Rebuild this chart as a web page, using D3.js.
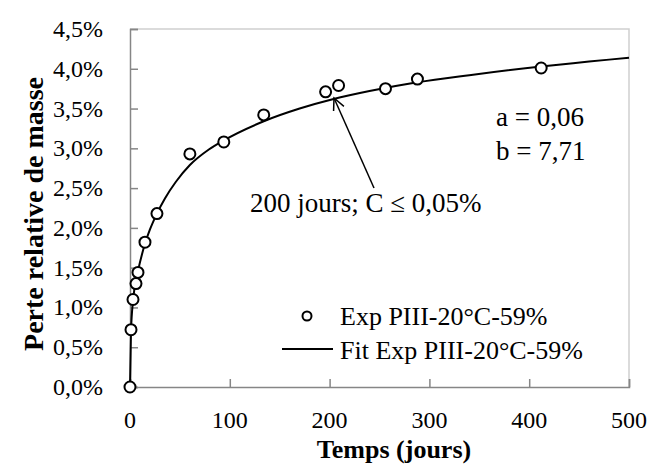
<!DOCTYPE html>
<html>
<head>
<meta charset="utf-8">
<script src="https://cdn.jsdelivr.net/npm/d3@7"></script>
<style>
  body { margin: 0; background: #fff; }
  text { font-family: "Liberation Serif", "Times New Roman", serif; fill: #000; }
</style>
</head>
<body>
<div id="chart"></div>
<script>
// Experimental points (days, % mass loss)
const expDays   = [0, 1, 3, 6, 8, 15, 27, 60, 94, 134, 196, 209, 256, 288, 412];
const expValues = [0, 0.72, 1.10, 1.30, 1.44, 1.82, 2.18, 2.93, 3.08, 3.42, 3.71, 3.79, 3.75, 3.87, 4.01];

// Fitted curve
const fitDays   = [0, 1, 3, 5, 8, 15, 20, 27, 35, 46, 60, 79, 94, 134, 170, 204, 240, 288, 340, 412, 460, 500];
const fitValues = [0, 0.70, 1.08, 1.28, 1.46, 1.80, 1.98, 2.18, 2.37, 2.58, 2.79, 2.985, 3.10, 3.34, 3.50, 3.62, 3.72, 3.83, 3.92, 4.03, 4.09, 4.14];

const xTicks = [0, 100, 200, 300, 400, 500];
const yTicks = [0, 0.5, 1, 1.5, 2, 2.5, 3, 3.5, 4, 4.5];

const seriesNames = ["Exp PIII-20°C-59%", "Fit Exp PIII-20°C-59%"];

const width = 651, height = 464;
const margin = { top: 29, right: 22, bottom: 77, left: 130 };
const w = width - margin.left - margin.right;
const h = height - margin.top - margin.bottom;

const svg = d3.select("#chart").append("svg")
  .attr("width", width).attr("height", height);

const g = svg.append("g").attr("transform", `translate(${margin.left},${margin.top})`);

const x = d3.scaleLinear().domain([0, 500]).range([0, w]);
const y = d3.scaleLinear().domain([0, 4.5]).range([h, 0]);

// plot area border (top / right)
g.append("path")
  .attr("d", `M0,0H${w}V${h}`)
  .attr("fill", "none").attr("stroke", "#d0d0d0").attr("stroke-width", 1.5);

// axes, ticks pointing inward
const xAxis = g.append("g").attr("transform", `translate(0,${h})`)
  .call(d3.axisTop(x).tickValues(xTicks).tickSize(8).tickFormat(""));
const yAxis = g.append("g")
  .call(d3.axisRight(y).tickValues(yTicks).tickSize(8).tickFormat(""));
[xAxis, yAxis].forEach(a => {
  a.selectAll("path, line").attr("stroke", "#868686").attr("stroke-width", 1.5);
});

// tick labels
g.selectAll(".xl").data(xTicks).enter().append("text")
  .attr("x", d => x(d)).attr("y", h + 41)
  .attr("text-anchor", "middle").attr("font-size", 24)
  .text(d => d);

g.selectAll(".yl").data(yTicks).enter().append("text")
  .attr("x", -27).attr("y", d => y(d) + 8)
  .attr("text-anchor", "end").attr("font-size", 24)
  .text(d => d.toFixed(1).replace(".", ",") + "%");

// axis titles
svg.append("text")
  .attr("x", 394).attr("y", 458)
  .attr("text-anchor", "middle").attr("font-size", 26).attr("font-weight", "bold")
  .text("Temps (jours)");

svg.append("text")
  .attr("transform", "translate(43,214) rotate(-90)")
  .attr("text-anchor", "middle").attr("font-size", 28).attr("font-weight", "bold")
  .text("Perte relative de masse");

// fit line
const line = d3.line()
  .x((d, i) => x(fitDays[i]))
  .y(d => y(d))
  .curve(d3.curveMonotoneX);

g.append("path")
  .datum(fitValues)
  .attr("d", line)
  .attr("fill", "none").attr("stroke", "#000").attr("stroke-width", 2);

// experimental points
g.selectAll(".pt").data(expValues).enter().append("circle")
  .attr("cx", (d, i) => x(expDays[i]))
  .attr("cy", d => y(d))
  .attr("r", 5.5)
  .attr("fill", "#fff").attr("stroke", "#000").attr("stroke-width", 2);

// parameters
svg.append("text").attr("x", 496).attr("y", 126).attr("font-size", 27).text("a = 0,06");
svg.append("text").attr("x", 496).attr("y", 160).attr("font-size", 27).text("b = 7,71");

// annotation arrow
svg.append("text").attr("x", 250).attr("y", 212).attr("font-size", 27)
  .text("200 jours; C ≤ 0,05%");

const tip = [334, 98], tail = [374, 188];
const ang = Math.atan2(tail[1] - tip[1], tail[0] - tip[0]);
const hl = 13, spread = 0.45;
svg.append("line")
  .attr("x1", tail[0]).attr("y1", tail[1]).attr("x2", tip[0]).attr("y2", tip[1])
  .attr("stroke", "#000").attr("stroke-width", 1.5);
svg.append("path")
  .attr("d", `M${tip[0] + hl * Math.cos(ang - spread)},${tip[1] + hl * Math.sin(ang - spread)}` +
             `L${tip[0]},${tip[1]}` +
             `L${tip[0] + hl * Math.cos(ang + spread)},${tip[1] + hl * Math.sin(ang + spread)}`)
  .attr("fill", "none").attr("stroke", "#000").attr("stroke-width", 1.5);

// legend
const legend = svg.append("g");
legend.append("circle")
  .attr("cx", 307).attr("cy", 316).attr("r", 4.5)
  .attr("fill", "#fff").attr("stroke", "#000").attr("stroke-width", 2);
legend.append("text").attr("x", 340).attr("y", 325).attr("font-size", 26).text(seriesNames[0]);
legend.append("line")
  .attr("x1", 282).attr("x2", 333).attr("y1", 349).attr("y2", 349)
  .attr("stroke", "#000").attr("stroke-width", 2);
legend.append("text").attr("x", 340).attr("y", 359).attr("font-size", 26).text(seriesNames[1]);
</script>
</body>
</html>
